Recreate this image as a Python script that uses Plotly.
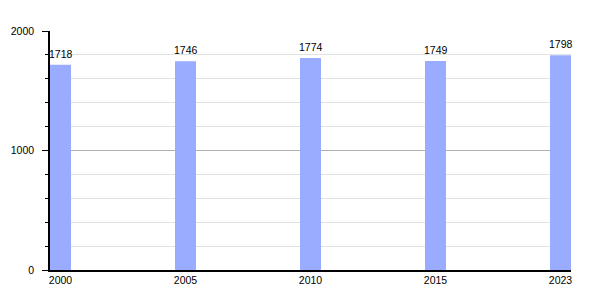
import plotly.graph_objects as go

years = ["2000", "2005", "2010", "2015", "2023"]
population = [1718, 1746, 1774, 1749, 1798]
y_ticks = [0, 1000, 2000]

xpos = list(range(len(years)))
FONT = "Liberation Sans, Arial, sans-serif"

fig = go.Figure(
    go.Bar(
        x=xpos,
        y=population,
        width=0.168,
        marker=dict(color="#99acff", line=dict(width=0)),
        hoverinfo="x+y",
    )
)

for xi, v in zip(xpos, population):
    fig.add_annotation(
        x=xi,
        y=v,
        text=str(v),
        showarrow=False,
        xanchor="center",
        yanchor="bottom",
        yshift=3,
        font=dict(family=FONT, size=10.5, color="#000"),
    )

fig.update_layout(
    width=600,
    height=300,
    margin=dict(l=50, r=29, t=31, b=30),
    paper_bgcolor="white",
    plot_bgcolor="white",
    showlegend=False,
    font=dict(family=FONT, size=10.5, color="#000"),
    xaxis=dict(
        range=[-0.084, len(years) - 1 + 0.084],
        tickvals=xpos,
        ticktext=years,
        showgrid=False,
        showline=True,
        linecolor="#000",
        linewidth=1.5,
        ticks="",
        ticklabelstandoff=0,
        zeroline=False,
        fixedrange=True,
    ),
    yaxis=dict(
        range=[0, 2000],
        tickvals=y_ticks,
        showgrid=True,
        gridcolor="#b0b0b0",
        gridwidth=1,
        showline=True,
        linecolor="#000",
        linewidth=1.5,
        ticks="outside",
        ticklen=6,
        tickcolor="#000",
        ticklabelstandoff=6,
        zeroline=False,
        minor=dict(
            dtick=200,
            ticks="outside",
            ticklen=3,
            tickcolor="#000",
            showgrid=True,
            gridcolor="#e2e2e2",
            gridwidth=1,
        ),
        fixedrange=True,
    ),
)

fig.write_html("out.html")
